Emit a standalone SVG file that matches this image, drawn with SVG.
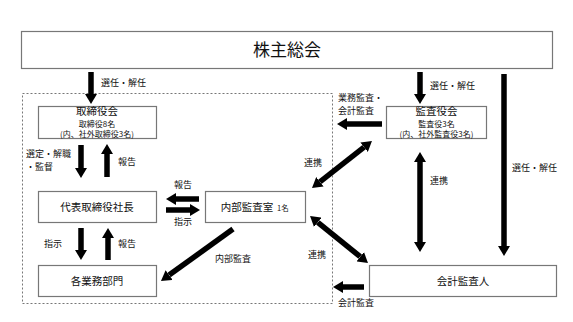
<svg xmlns="http://www.w3.org/2000/svg" width="573" height="322" viewBox="0 0 573 322">
<style>
text{font-family:"Noto Sans CJK JP","Noto Sans",sans-serif;fill:#111}
.box{fill:#fff;stroke:#777;stroke-width:1.2}
.t{font-size:10.5px;text-anchor:middle}
.s{font-size:8px;text-anchor:middle}
.l{font-size:9px}
.a{stroke:#000;stroke-width:5.5;fill:none;marker-end:url(#h)}
.d{stroke:#000;stroke-width:5.5;fill:none;marker-end:url(#h);marker-start:url(#h)}
</style>
<defs>
<marker id="h" viewBox="0 0 10 12" markerWidth="10" markerHeight="12" markerUnits="userSpaceOnUse" refX="0" refY="6" orient="auto-start-reverse"><path d="M0,0 L10,6 L0,12 z" fill="#000"/></marker>
</defs>
<rect width="573" height="322" fill="#fff"/>
<rect id="container" x="22.5" y="93.5" width="310" height="210" fill="none" stroke="#777" stroke-width="1" stroke-dasharray="2,2"/>
<g id="shareholders"><rect class="box" x="21.5" y="31.5" width="531" height="37"/><text x="287" y="56" font-size="17" text-anchor="middle">株主総会</text></g>
<g id="board"><rect class="box" x="38.5" y="106.5" width="118" height="32"/><text class="t" x="97" y="115">取締役会</text><text class="s" x="97" y="126.5">取締役8名</text><text class="s" x="97" y="137">(内、社外取締役3名)</text></g>
<g id="president"><rect class="box" x="38.5" y="191.5" width="118" height="31"/><text class="t" x="97" y="211">代表取締役社長</text></g>
<g id="internal-audit"><rect class="box" x="205.5" y="191.5" width="100" height="31"/><text x="247" y="211" font-size="10.5" text-anchor="middle">内部監査室</text><text x="277" y="211" font-size="7.5">1名</text></g>
<g id="departments"><rect class="box" x="38.5" y="265.5" width="118" height="31"/><text class="t" x="97" y="285">各業務部門</text></g>
<g id="auditors"><rect class="box" x="386.5" y="106.5" width="100" height="32"/><text class="t" x="436.5" y="115">監査役会</text><text class="s" x="436.5" y="126.5">監査役3名</text><text class="s" x="436.5" y="137">(内、社外監査役3名)</text></g>
<g id="accounting-auditor"><rect class="box" x="369.5" y="265.5" width="187" height="31"/><text class="t" x="463" y="285">会計監査人</text></g>
<g id="connectors">
<line class="a" x1="91" y1="72" x2="91" y2="94"/>
<line class="a" x1="420" y1="72" x2="420" y2="94"/>
<line class="a" x1="504" y1="74" x2="504" y2="246"/>
<line class="a" x1="81" y1="145" x2="81" y2="168"/>
<line class="a" x1="107" y1="177" x2="107" y2="154"/>
<line class="a" x1="199" y1="199" x2="176" y2="199"/>
<line class="a" x1="166" y1="210" x2="190" y2="210"/>
<line class="a" x1="81" y1="228" x2="81" y2="250"/>
<line class="a" x1="108" y1="260" x2="108" y2="238"/>
<line class="a" x1="233" y1="229" x2="169.1" y2="275.1"/>
<line class="a" x1="382" y1="124" x2="347" y2="124"/>
<line class="d" x1="364.1" y1="147.2" x2="319.9" y2="181.8"/>
<line class="d" x1="420" y1="162" x2="420" y2="242"/>
<line class="d" x1="317.8" y1="222.3" x2="360.2" y2="256.7"/>
<line class="a" x1="364" y1="287" x2="343" y2="287"/>
<text class="l" x="101" y="86">選任・解任</text>
<text class="l" x="430" y="89">選任・解任</text>
<text class="l" x="512" y="171">選任・解任</text>
<text class="l" x="338" y="101">業務監査・</text>
<text class="l" x="338" y="114">会計監査</text>
<text class="l" x="26" y="157">選定・解職</text>
<text class="l" x="26" y="170">・監督</text>
<text class="l" x="118" y="165">報告</text>
<text class="l" x="174" y="188">報告</text>
<text class="l" x="174" y="225">指示</text>
<text class="l" x="44" y="247">指示</text>
<text class="l" x="118" y="247">報告</text>
<text class="l" x="215" y="262">内部監査</text>
<text class="l" x="304" y="166">連携</text>
<text class="l" x="430" y="184">連携</text>
<text class="l" x="308" y="258">連携</text>
<text class="l" x="338" y="306">会計監査</text>
</g>
</svg>
